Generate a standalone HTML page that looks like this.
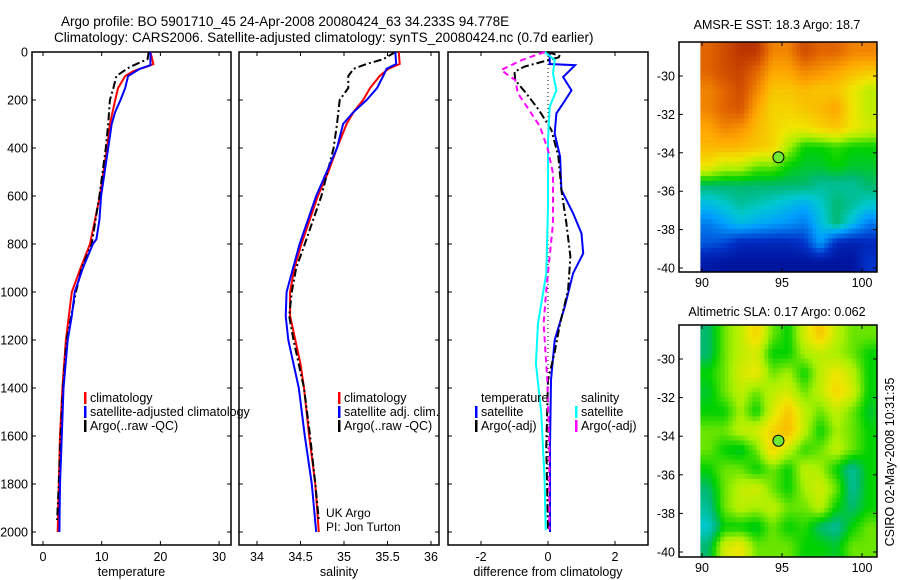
<!DOCTYPE html>
<html><head><meta charset="utf-8"><style>
html,body{margin:0;padding:0;background:#fff;}
svg{display:block;font-family:"Liberation Sans",sans-serif;}
text{fill:#000;}
</style></head><body>
<svg id="fig" width="900" height="580" viewBox="0 0 900 580">
<text x="61" y="26" font-size="13.5">Argo profile: BO 5901710_45 24-Apr-2008 20080424_63 34.233S 94.778E</text>
<text x="54" y="42" font-size="13.5">Climatology: CARS2006. Satellite-adjusted climatology: synTS_20080424.nc (0.7d earlier)</text>
<text x="777" y="29" font-size="12.5" text-anchor="middle">AMSR-E SST: 18.3 Argo: 18.7</text>
<text x="777" y="316" font-size="12.5" text-anchor="middle">Altimetric SLA: 0.17 Argo: 0.062</text>
<text transform="translate(894,462) rotate(-90)" font-size="12.5" text-anchor="middle">CSIRO 02-May-2008 10:31:35</text>
<text x="326" y="517" font-size="12">UK Argo</text>
<text x="326" y="531" font-size="12">PI: Jon Turton</text>
</svg>
<script>
// ---------- data ----------
const depthTicks=[0,200,400,600,800,1000,1200,1400,1600,1800,2000];
const tempTicks=[0,10,20,30];
const salTicks=[34,34.5,35,35.5,36];
const salTickLabels=["34","34.5","35","35.5","36"];
const diffTicks=[-2,0,2];
const latTicks=[-30,-32,-34,-36,-38,-40];
const lonTicks=[90,95,100];

const tClimDepth=[0,50,60,70,80,100,150,200,300,400,600,800,900,1000,1200,1400,1600,1800,2000];
const tClimVal=[18.3,18.8,17.8,16.5,15.4,14.0,12.8,12.3,11.4,10.9,9.7,8.0,6.4,4.9,3.9,3.3,2.9,2.7,2.5];
const tSatDepth=[0,55,70,100,150,200,250,300,400,600,700,780,800,900,1000,1100,1200,1400,1600,1800,2000];
const tSatVal=[18.3,18.3,16.5,14.5,14.0,13.2,12.3,11.7,11.1,9.9,9.6,9.1,8.5,6.8,5.4,4.9,4.2,3.5,3.2,2.9,2.8];
const tArgoDepth=[0,30,60,70,100,150,200,300,400,600,800,900,1000,1200,1400,1600,1800,1950];
const tArgoVal=[18.0,17.8,15.0,14.3,12.5,12.0,11.4,11.1,10.7,9.6,8.3,6.6,5.6,4.0,3.4,3.0,2.7,2.4];

const sClimDepth=[0,50,70,100,150,200,250,300,400,500,600,800,900,1000,1100,1200,1300,1400,1600,1800,2000];
const sClimVal=[35.63,35.64,35.51,35.41,35.30,35.22,35.11,35.03,34.92,34.82,34.70,34.51,34.43,34.38,34.38,34.44,34.50,34.54,34.60,34.67,34.71];
const sSatDepth=[0,50,70,100,150,200,250,300,400,600,800,1000,1100,1200,1400,1600,1800,2000];
const sSatVal=[35.59,35.60,35.49,35.45,35.38,35.26,35.11,34.99,34.92,34.68,34.49,34.34,34.33,34.36,34.48,34.55,34.63,34.68];
const sArgoDepth=[0,30,50,70,100,150,180,200,300,400,600,800,900,1000,1100,1200,1400,1600,1800,1950];
const sArgoVal=[35.59,35.45,35.26,35.11,35.05,35.05,34.99,34.95,34.92,34.88,34.74,34.55,34.45,34.40,34.37,34.42,34.54,34.61,34.67,34.71];

const dTSatDepth=[0,50,55,104,160,214,256,340,436,575,672,756,839,922,1061,1200,1367,1644,2000];
const dTSatVal=[0.05,0.05,0.81,0.45,0.70,0.45,0.25,0.20,0.36,0.40,0.75,1.00,1.05,0.75,0.50,0.20,0.09,0.06,0.06];
const dTArgoDepth=[0,19,61,82,117,172,242,325,436,575,714,853,992,1131,1250,1367,1644,1990];
const dTArgoVal=[0.0,0.4,-0.7,-1.0,-0.98,-0.65,-0.27,0.1,0.31,0.4,0.55,0.67,0.6,0.36,0.2,0.0,-0.05,0.0];
const dSSatDepth=[0,33,90,160,228,367,645,922,1131,1297,1506,1783,1992];
const dSSatVal=[-0.1,0.2,0.15,0.25,0.05,0.0,0.0,-0.05,-0.3,-0.36,-0.2,-0.1,-0.07];
const dSArgoDepth=[0,33,75,117,172,228,311,408,506,714,992,1131,1367,1644,1990];
const dSArgoVal=[-0.1,-0.77,-1.4,-0.98,-0.9,-0.63,-0.24,0.0,0.15,0.15,-0.05,-0.13,-0.02,0.04,0.04];

const sstGrid=[
[0.85,0.9,0.95,0.95,0.8,0.8,0.9,0.85,0.85,0.8,0.8],
[0.85,0.9,0.92,0.85,0.75,0.75,0.8,0.78,0.75,0.72,0.7],
[0.8,0.85,0.9,0.8,0.7,0.7,0.72,0.7,0.7,0.65,0.6],
[0.8,0.85,0.88,0.75,0.68,0.68,0.7,0.72,0.75,0.65,0.6],
[0.75,0.8,0.78,0.72,0.68,0.65,0.65,0.68,0.7,0.65,0.62],
[0.72,0.72,0.72,0.7,0.68,0.58,0.5,0.5,0.52,0.5,0.5],
[0.65,0.6,0.6,0.55,0.55,0.5,0.48,0.48,0.5,0.48,0.48],
[0.45,0.45,0.45,0.45,0.45,0.45,0.45,0.42,0.42,0.42,0.45],
[0.35,0.38,0.42,0.4,0.38,0.35,0.32,0.38,0.45,0.42,0.38],
[0.25,0.3,0.35,0.32,0.3,0.28,0.25,0.35,0.45,0.35,0.25],
[0.2,0.18,0.12,0.12,0.12,0.12,0.15,0.3,0.12,0.1,0.12],
[0.08,0.06,0.06,0.06,0.06,0.06,0.06,0.06,0.06,0.06,0.15]];
const slaGrid=[
[0.45,0.55,0.6,0.68,0.55,0.5,0.62,0.7,0.6,0.55,0.55],
[0.45,0.55,0.6,0.62,0.5,0.5,0.58,0.6,0.58,0.55,0.5],
[0.5,0.55,0.62,0.65,0.55,0.58,0.5,0.6,0.65,0.6,0.5],
[0.48,0.55,0.6,0.55,0.6,0.62,0.55,0.6,0.68,0.62,0.5],
[0.5,0.5,0.58,0.5,0.62,0.7,0.6,0.55,0.6,0.55,0.48],
[0.55,0.55,0.6,0.62,0.68,0.72,0.6,0.5,0.58,0.55,0.5],
[0.55,0.5,0.48,0.55,0.68,0.6,0.52,0.55,0.6,0.55,0.5],
[0.5,0.55,0.55,0.5,0.55,0.5,0.6,0.58,0.5,0.42,0.5],
[0.45,0.55,0.6,0.62,0.55,0.5,0.58,0.62,0.55,0.42,0.5],
[0.42,0.55,0.6,0.58,0.6,0.55,0.55,0.6,0.5,0.45,0.5],
[0.38,0.5,0.5,0.48,0.55,0.5,0.52,0.45,0.42,0.5,0.55],
[0.45,0.62,0.65,0.55,0.55,0.55,0.5,0.5,0.48,0.55,0.55]];
const floatLon=[94.778];
const floatLat=[-34.233];

// ---------- helpers ----------
const NS="http://www.w3.org/2000/svg";
const svg=document.getElementById('fig');
function mk(tag,attrs,parent){const e=document.createElementNS(NS,tag);for(const k in attrs)e.setAttribute(k,attrs[k]);(parent||svg).appendChild(e);return e;}
const yD=d=>52+d*0.24;

const cmapStops=[[0,[0,0,130]],[0.15,[0,50,200]],[0.3,[0,160,255]],[0.38,[0,200,210]],[0.45,[0,185,110]],[0.5,[0,210,0]],[0.58,[170,240,0]],[0.65,[240,230,0]],[0.75,[255,165,0]],[0.85,[225,100,0]],[1,[170,30,0]]];
function cmap(v){
  v=Math.max(0,Math.min(1,v));
  for(let i=1;i<cmapStops.length;i++){
    if(v<=cmapStops[i][0]){
      const [a,ca]=cmapStops[i-1],[b,cb]=cmapStops[i];
      const f=(v-a)/(b-a);
      return `rgb(${ca.map((c,k)=>Math.round(c+(cb[k]-c)*f)).join(',')})`;
    }
  }
  return 'rgb(170,30,0)';
}
function sample(grid,r,c){
  const R=grid.length,C=grid[0].length;
  r=Math.max(0,Math.min(R-1,r));c=Math.max(0,Math.min(C-1,c));
  const r0=Math.floor(r),c0=Math.floor(c),r1=Math.min(R-1,r0+1),c1=Math.min(C-1,c0+1);
  const fr=r-r0,fc=c-c0;
  return grid[r0][c0]*(1-fr)*(1-fc)+grid[r0][c1]*(1-fr)*fc+grid[r1][c0]*fr*(1-fc)+grid[r1][c1]*fr*fc;
}

function profilePanel(name,x0,x1,xs,ticks,labels,title){
  const g=mk('g',{});
  
  
  const fr=mk('rect',{x:x0,y:52,width:x1-x0,height:493,fill:'none',stroke:'#000','stroke-width':1.5},g);
  
  
  ticks.forEach((t,i)=>{
    const x=xs(t);
    mk('line',{x1:x,x2:x,y1:52,y2:56,stroke:'#000'},g);
    mk('line',{x1:x,x2:x,y1:545,y2:541,stroke:'#000'},g);
    const tl=mk('text',{x:x,y:561,'font-size':12.5,'text-anchor':'middle'},g);
    tl.textContent=labels[i];
    
    
  });
  depthTicks.forEach(d=>{
    mk('line',{x1:x0,x2:x0+4,y1:yD(d),y2:yD(d),stroke:'#000'},g);
    mk('line',{x1:x1,x2:x1-4,y1:yD(d),y2:yD(d),stroke:'#000'},g);
  });
  const at=mk('text',{x:(x0+x1)/2,y:576,'font-size':12.5,'text-anchor':'middle'},g);
  at.textContent=title;
  
  
  return g;
}
function series(g,name,depths,vals,xs,color,dash){
  const pts=depths.map((d,i)=>xs(vals[i]).toFixed(1)+','+yD(d).toFixed(1)).join(' ');
  const p=mk('polyline',{points:pts,fill:'none',stroke:color,'stroke-width':2,'stroke-dasharray':dash||'none'},g);
  
  
}
function legendEntry(g,name,x,y,color,label){
  mk('rect',{x:x-6,y:y-10,width:2.5,height:12,fill:color},g);
  const t=mk('text',{x:x,y:y,'font-size':12.5},g);
  t.textContent=label;
  
  
}

depthTicks.forEach(d=>{
  const t=mk('text',{x:28,y:yD(d)+4.5,'font-size':12.5,'text-anchor':'end'});
  t.textContent=String(d);
  
  
});

// Panel 1: temperature
const xT=v=>43+v*5.87;
const g1=profilePanel('temperature',32,231,xT,tempTicks,tempTicks.map(String),'temperature');
series(g1,'temp-climatology-line',tClimDepth,tClimVal,xT,'#f00');
series(g1,'temp-argo-line',tArgoDepth,tArgoVal,xT,'#000','8,3,2,3');
series(g1,'temp-satellite-line',tSatDepth,tSatVal,xT,'#00f');
legendEntry(g1,'legend-climatology',90,402,'#f00','climatology');
legendEntry(g1,'legend-satellite-adjusted',90,416,'#00f','satellite-adjusted climatology');
legendEntry(g1,'legend-argo',90,430,'#000','Argo(..raw -QC)');

// Panel 2: salinity
const xS=v=>257+(v-34)*87;
const g2=profilePanel('salinity',239,439,xS,salTicks,salTickLabels,'salinity');
series(g2,'sal-climatology-line',sClimDepth,sClimVal,xS,'#f00');
series(g2,'sal-argo-line',sArgoDepth,sArgoVal,xS,'#000','8,3,2,3');
series(g2,'sal-satellite-line',sSatDepth,sSatVal,xS,'#00f');
legendEntry(g2,'legend-sal-climatology',344,402,'#f00','climatology');
legendEntry(g2,'legend-sal-satellite',344,416,'#00f','satellite adj. clim.');
legendEntry(g2,'legend-sal-argo',344,430,'#000','Argo(..raw -QC)');

// Panel 3: difference
const xDf=v=>548+v*33.5;
const g3=profilePanel('difference',448,648,xDf,diffTicks,diffTicks.map(String),'difference from climatology');
mk('line',{x1:xDf(0),x2:xDf(0),y1:52,y2:yD(2000),stroke:'#000','stroke-dasharray':'1,3'},g3);
series(g3,'diff-temp-satellite-line',dTSatDepth,dTSatVal,xDf,'#00f');
series(g3,'diff-temp-argo-line',dTArgoDepth,dTArgoVal,xDf,'#000','8,3,2,3');
series(g3,'diff-sal-satellite-line',dSSatDepth,dSSatVal,xDf,'#0ff');
series(g3,'diff-sal-argo-line',dSArgoDepth,dSArgoVal,xDf,'#f0f','6,4');
const lt1=mk('text',{x:481,y:402,'font-size':12.5},g3);lt1.textContent='temperature';


const lt2=mk('text',{x:581,y:402,'font-size':12.5},g3);lt2.textContent='salinity';


legendEntry(g3,'legend-diff-temp-satellite',481,416,'#00f','satellite');
legendEntry(g3,'legend-diff-temp-argo',481,430,'#000','Argo(-adj)');
legendEntry(g3,'legend-diff-sal-satellite',581,416,'#0ff','satellite');
legendEntry(g3,'legend-diff-sal-argo',581,430,'#f0f','Argo(-adj)');

// Maps
function mapPanel(name,top,bottom,lat30y,lat40y,grid){
  const g=mk('g',{});
  
  
  const yL=la=>lat30y+(-30-la)*(lat40y-lat30y)/10;
  const xL=lo=>702+(lo-90)*16;
  const left=679,right=877;
  const lat0=-30+(lat30y-top)/((lat40y-lat30y)/10);
  const latBot=-40.2, lonL=89.9, lonR=100.9;
  const R=grid.length,C=grid[0].length,S=4;
  const nr=R*S,nc=C*S;
  const dLa=(lat0-latBot)/nr, dLo=(lonR-lonL)/nc;
  for(let r=0;r<nr;r++){
    for(let c=0;c<nc;c++){
      const v=sample(grid,(r+0.5)/S-0.5,(c+0.5)/S-0.5);
      const y1=yL(lat0-r*dLa),y2=yL(lat0-(r+1)*dLa);
      const x1=xL(lonL+c*dLo),x2=xL(lonL+(c+1)*dLo);
      const cell=mk('rect',{x:x1.toFixed(2),y:y1.toFixed(2),width:(x2-x1+0.6).toFixed(2),height:(y2-y1+0.6).toFixed(2),fill:cmap(v)},g);
      
      
    }
  }
  const fr=mk('rect',{x:left,y:top,width:right-left,height:bottom-top,fill:'none',stroke:'#000','stroke-width':1.5},g);
  
  
  latTicks.forEach(la=>{
    const y=yL(la);
    mk('line',{x1:left,x2:left+4,y1:y,y2:y,stroke:'#000'},g);
    mk('line',{x1:right,x2:right-4,y1:y,y2:y,stroke:'#000'},g);
    const t=mk('text',{x:left-4,y:y+4.5,'font-size':12.5,'text-anchor':'end'},g);
    t.textContent=String(la);
    
    
  });
  lonTicks.forEach(lo=>{
    const x=xL(lo);
    mk('line',{x1:x,x2:x,y1:top,y2:top+4,stroke:'#000'},g);
    mk('line',{x1:x,x2:x,y1:bottom,y2:bottom-4,stroke:'#000'},g);
    const t=mk('text',{x:x,y:bottom+15,'font-size':12.5,'text-anchor':'middle'},g);
    t.textContent=String(lo);
    
    
  });
  const m=mk('circle',{cx:xL(floatLon[0]),cy:yL(floatLat[0]),r:5.5,fill:'#6ee830',stroke:'#000','stroke-width':1},g);
  
  
}
mapPanel('sst-map',42,272,76,268,sstGrid);
mapPanel('sla-map',325,557,359,552,slaGrid);
</script>
</body></html>
